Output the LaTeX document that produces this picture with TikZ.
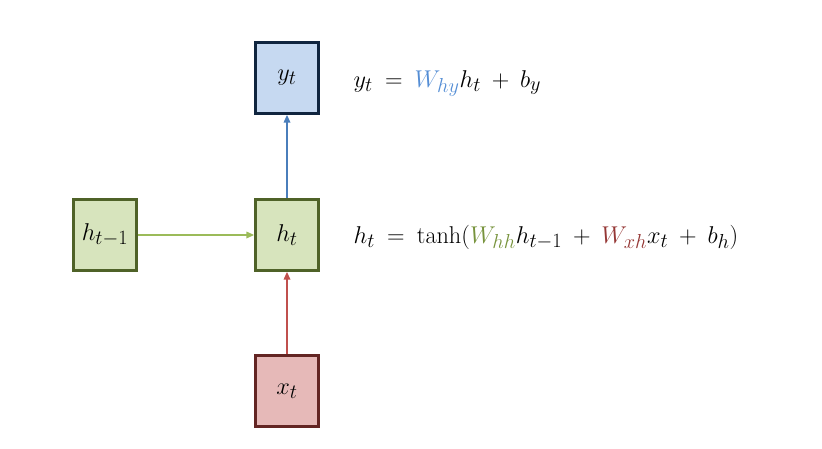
\documentclass[tikz,border=0pt]{standalone}
\usepackage{amsmath}
\usetikzlibrary{arrows.meta}

\definecolor{yfill}{HTML}{C6D9F1}
\definecolor{yline}{HTML}{10253F}
\definecolor{hfill}{HTML}{D7E4BD}
\definecolor{hline}{HTML}{4F6228}
\definecolor{xfill}{HTML}{E6B9B8}
\definecolor{xline}{HTML}{632523}
\definecolor{yarrow}{HTML}{4A7EBB}
\definecolor{harrow}{HTML}{9BBB59}
\definecolor{xarrow}{HTML}{C0504D}
\definecolor{wblue}{HTML}{558ED5}
\definecolor{wgreen}{HTML}{77933C}
\definecolor{wred}{HTML}{953735}

\DeclareMathSizes{22}{22}{17}{13}
\newcommand{\eqfont}{\fontsize{22}{26}\selectfont\medmuskip=8mu plus 2mu\thickmuskip=9mu plus 3mu}

\begin{document}
\begin{tikzpicture}[x=0.03cm, y=-0.03cm, >={Triangle[length=2.3mm, width=2mm]}, line width=1pt,
  cell/.style={draw, line width=2.4pt, minimum width=1.89cm, minimum height=2.13cm, inner sep=0pt,
    font=\eqfont},
  eqn/.style={anchor=base west, inner sep=0pt, font=\eqfont}]
  \useasboundingbox (0,0) rectangle (822,448);

  % cells
  \node[cell, fill=yfill, draw=yline] (yt) at (287,78) {$y_t$};
  \node[cell, fill=hfill, draw=hline] (hprev) at (105,235) {$h_{t-1}$};
  \node[cell, fill=hfill, draw=hline] (ht) at (287,235) {$h_t$};
  \node[cell, fill=xfill, draw=xline] (xt) at (287,391) {$x_t$};

  % connections
  \draw[->, yarrow] (ht.north) -- (yt.south);
  \draw[->, harrow] (hprev.east) -- (ht.west);
  \draw[->, xarrow] (xt.north) -- (ht.south);

  % equations
  \node[eqn] (eqy) at (353,87) {$y_t = \textcolor{wblue}{W_{hy}} h_t + b_y$};
  \node[eqn] (eqh) at (353,243) {$h_t = \tanh(\textcolor{wgreen}{W_{hh}} h_{t-1} + \textcolor{wred}{W_{xh}} x_t + b_h)$};
\end{tikzpicture}
\end{document}
